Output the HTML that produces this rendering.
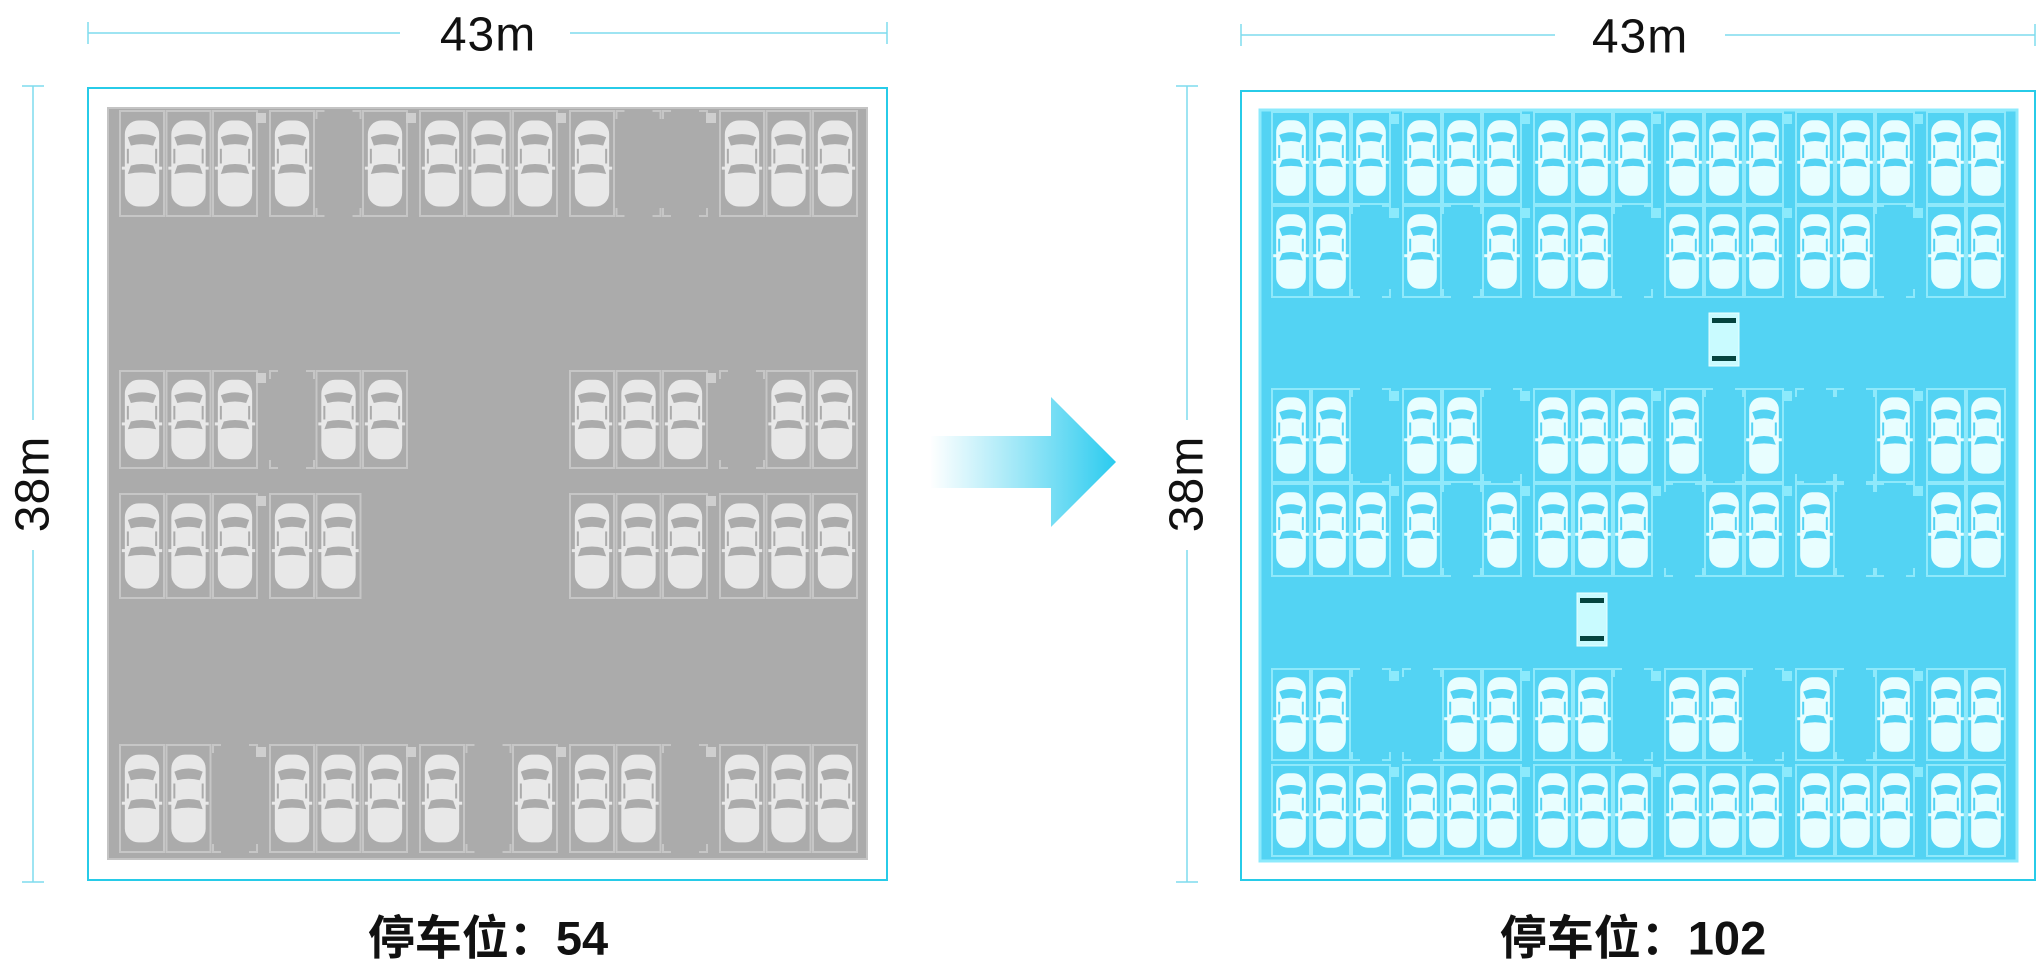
<!DOCTYPE html>
<html><head><meta charset="utf-8">
<style>
html,body{margin:0;padding:0;background:#fff;}
body{width:2040px;height:968px;position:relative;overflow:hidden;font-family:"Liberation Sans","Noto Sans CJK SC",sans-serif;}
.t{position:absolute;font-size:48px;color:#111;letter-spacing:1px;transform:translate(-50%,-50%);white-space:nowrap;}
.b{position:absolute;font-size:47px;font-weight:bold;color:#111;transform:translate(-50%,-50%);white-space:nowrap;}
</style></head><body>
<svg id="s" width="2040" height="968" style="position:absolute;left:0;top:0">
<defs>
<linearGradient id="ag" x1="0" x2="1" y1="0" y2="0"><stop offset="0" stop-color="#3ccfee" stop-opacity="0"/><stop offset="1" stop-color="#2bcbef"/></linearGradient>
</defs>
<g stroke="#7fdcee" stroke-width="1.5" fill="none">
<line x1="88" y1="33" x2="400" y2="33"/><line x1="570" y1="33" x2="887" y2="33"/>
<line x1="88" y1="22" x2="88" y2="44"/><line x1="887" y1="22" x2="887" y2="44"/>
<line x1="33" y1="86" x2="33" y2="420"/><line x1="33" y1="550" x2="33" y2="882"/>
<line x1="22" y1="86" x2="44" y2="86"/><line x1="22" y1="882" x2="44" y2="882"/>
<line x1="1241" y1="35" x2="1555" y2="35"/><line x1="1725" y1="35" x2="2035" y2="35"/>
<line x1="1241" y1="24" x2="1241" y2="46"/><line x1="2035" y1="24" x2="2035" y2="46"/>
<line x1="1187" y1="86" x2="1187" y2="420"/><line x1="1187" y1="550" x2="1187" y2="882"/>
<line x1="1176" y1="86" x2="1198" y2="86"/><line x1="1176" y1="882" x2="1198" y2="882"/>
</g>
<rect x="88" y="88" width="799" height="792" fill="none" stroke="#27cbe8" stroke-width="2"/>
<rect x="108" y="108" width="759" height="751" fill="#ababab" stroke="#c4c4c4" stroke-width="2"/>
<rect x="1241" y="91" width="794" height="789" fill="none" stroke="#27cbe8" stroke-width="2"/>
<rect x="1260" y="110" width="757" height="751" fill="#53d3f3" stroke="#8ceafc" stroke-width="3"/>
<g id="L"></g><g id="R"></g>
<polygon points="930,436 1051,436 1051,397 1116,462 1051,527 1051,488 930,488" fill="url(#ag)"/>
<g>
<rect x="1709" y="313" width="30" height="53" fill="#c9fbff" stroke="#e8ffff"/>
<rect x="1712" y="318" width="24" height="5" fill="#05443f"/><rect x="1712" y="356" width="24" height="5" fill="#05443f"/>
<rect x="1577" y="593" width="30" height="53" fill="#c9fbff" stroke="#e8ffff"/>
<rect x="1580" y="598" width="24" height="5" fill="#05443f"/><rect x="1580" y="636" width="24" height="5" fill="#05443f"/>
</g>
</svg>
<div class="t" style="left:488px;top:35px">43m</div>
<div class="t" style="left:1640px;top:37px">43m</div>
<div class="t" style="left:33px;top:484px;transform:translate(-50%,-50%) rotate(-90deg)">38m</div>
<div class="t" style="left:1187px;top:484px;transform:translate(-50%,-50%) rotate(-90deg)">38m</div>
<div class="b" style="left:488px;top:934px">停车位：54</div>
<div class="b" style="left:1633px;top:934px">停车位：102</div>
<script>
var NS="http://www.w3.org/2000/svg";
function el(p,t,a){var e=document.createElementNS(NS,t);for(var k in a)e.setAttribute(k,a[k]);p.appendChild(e);return e;}
function car(g,x,y,w,h,c){
 el(g,'rect',{x:x,y:y,width:w,height:h,fill:'none',stroke:c.line,'stroke-width':2});
 var cx=x+w/2,bw=w*0.78,bx=cx-bw/2,by=y+h*0.09,bh=h*0.82;
 el(g,'rect',{x:bx,y:by,width:bw,height:bh,rx:bw*0.4,fill:c.car});
 el(g,'rect',{x:bx-3,y:y+h*0.53,width:bw+6,height:3,fill:c.car});
 el(g,'path',{d:'M'+(bx+3)+' '+(y+h*0.25)+' Q'+cx+' '+(y+h*0.19)+' '+(bx+bw-3)+' '+(y+h*0.25)+' L'+(bx+bw-6)+' '+(y+h*0.33)+' Q'+cx+' '+(y+h*0.3)+' '+(bx+6)+' '+(y+h*0.33)+'Z',fill:c.bg});
 el(g,'path',{d:'M'+(bx+6)+' '+(y+h*0.52)+' Q'+cx+' '+(y+h*0.49)+' '+(bx+bw-6)+' '+(y+h*0.52)+' L'+(bx+bw-3)+' '+(y+h*0.6)+' Q'+cx+' '+(y+h*0.57)+' '+(bx+3)+' '+(y+h*0.6)+'Z',fill:c.bg});
 el(g,'rect',{x:bx+2,y:y+h*0.36,width:2,height:h*0.14,fill:c.bg});
 el(g,'rect',{x:bx+bw-4,y:y+h*0.36,width:2,height:h*0.14,fill:c.bg});
}
function empty(g,x,y,w,h,c){
 var L=8;
 el(g,'path',{d:'M'+(x+L)+' '+y+'H'+x+'V'+(y+L)+'M'+(x+w-L)+' '+y+'H'+(x+w)+'V'+(y+L)+'M'+x+' '+(y+h-L)+'V'+(y+h)+'H'+(x+L)+'M'+(x+w)+' '+(y+h-L)+'V'+(y+h)+'H'+(x+w-L),fill:'none',stroke:c.line,'stroke-width':2});
}
function panel(id,groups,pitch,w,rows,occ,c){
 var g=document.getElementById(id);
 rows.forEach(function(r,ri){
  groups.forEach(function(gx,gi){
   var s=occ[ri][gi];
   if(gi>0 && s.trim().length && occ[ri][gi-1].trim().length)el(g,'rect',{x:gx-14,y:r[0]+2,width:10,height:10,fill:c.pil});
   for(var k=0;k<s.length;k++){
    var x=gx+k*pitch;
    if(s[k]=='1')car(g,x,r[0],w,r[1],c);
    else if(s[k]=='0')empty(g,x,r[0],w,r[1],c);
   }
  });
 });
}
var cl={line:'#c6c6c6',car:'#e8e8e8',bg:'#ababab',pil:'#cfcfcf'};
panel('L',[120,270,420,570,720],46.5,44,[[111,105],[371,97],[494,104],[745,107]],
 [['111','101','111','100','111'],['111','011','   ','111','011'],['111','11 ','   ','111','111'],['110','111','101','110','111']],cl);
var cr={line:'#8fe9fb',car:'#e8feff',bg:'#53d3f3',pil:'#8ceafc'};
panel('R',[1272,1403,1534,1665,1796,1927],40,38,[[112,92],[206,91],[389,93],[484,92],[669,91],[765,91]],
 [['111','111','111','111','111','11'],['110','101','110','111','110','11'],['110','110','111','101','001','11'],['111','101','111','011','100','11'],['110','011','110','110','101','11'],['111','111','111','111','111','11']],cr);
</script>
</body></html>
